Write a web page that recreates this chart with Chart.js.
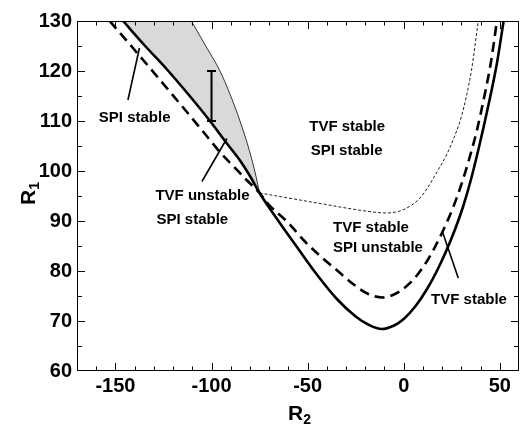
<!DOCTYPE html>
<html>
<head>
<meta charset="utf-8">
<script src="https://cdn.jsdelivr.net/npm/chart.js@4.4.0/dist/chart.umd.min.js"></script>
<style>
  html, body { margin: 0; padding: 0; background: #fff; }
</style>
</head>
<body>
<canvas id="mycanvas" width="520" height="424"></canvas>
<script>
// values: x = R2, y = R1

// thick solid line (TVF boundary), left branch up to the crossing, then the V
var tvfLeftR2 = [-146, -135, -123.4, -112, -100.8, -92, -85, -80, -75];
var tvfLeftR1 = [130, 125.2, 120.4, 115.3, 110, 105.5, 102, 99, 95.6];
var tvfRightR2 = [-65, -55, -45, -35, -25, -18, -11.5, -5, 0, 6, 12, 17, 22, 27, 31, 35, 39, 44, 48.4, 52];
var tvfRightR1 = [89.9, 84.5, 79.2, 74.5, 70.9, 69.2, 68.4, 69.1, 70.4, 72.9, 76.3, 79.8, 83.9, 88.6, 93, 98.3, 104.5, 113, 121.3, 130];

// thick dashed line (SPI boundary)
var spiR2 = [-153, -140, -127, -115, -104, -95, -88.7, -82, -75, -70.5, -60, -51.4, -42, -34, -26, -18.4, -11, -4, 1, 6, 11, 16, 21, 26, 30, 34, 38, 42, 45.5, 48.5];
var spiR1 = [130, 124.2, 118.3, 112.8, 107.7, 103.5, 101, 98.3, 95.6, 93.4, 89.6, 85.9, 82.5, 79.9, 77.3, 75.4, 74.7, 75.5, 76.8, 78.7, 81.3, 84.6, 88.5, 93, 97.3, 102.3, 108, 115, 122, 130];

// thin dotted line
var dotR2 = [-75, -60, -45, -30, -18, -9, -2, 3, 8, 12, 17, 22, 26, 30.1, 35.3, 38.8];
var dotR1 = [95.6, 94.6, 93.6, 92.6, 91.9, 91.6, 92, 92.9, 94.4, 96.4, 99.6, 103, 106.5, 111, 120.2, 130];

// thin solid line closing the grey region
var thinR2 = [-110.5, -103, -95.6, -90, -85.2, -81, -77.5, -75];
var thinR1 = [130, 125, 120, 115, 110, 105, 100, 95.6];

// error bar
var errR2 = [-100, -100];
var errR1 = [110, 120];

var xTickVals = [-150, -100, -50, 0, 50];
var yTickVals = [60, 70, 80, 90, 100, 110, 120, 130];

// labels written on the plot, anchored in data units
var notes = [
  {text: 'SPI stable', x: -140, y: 110.7},
  {text: 'TVF unstable', x: -104.7, y: 95},
  {text: 'SPI stable', x: -110, y: 90.3},
  {text: 'TVF stable', x: -29.4, y: 108.9},
  {text: 'SPI stable', x: -29.7, y: 104},
  {text: 'TVF stable', x: -17, y: 88.6},
  {text: 'SPI unstable', x: -13.4, y: 84.6},
  {text: 'TVF stable', x: 34, y: 74.2}
];
var pointers = [
  [-143.5, 114.2, -137.5, 124.6],
  [-105, 97.9, -92, 106.5],
  [20.2, 87.8, 28.4, 78.6]
];

function pts(xs, ys) {
	return xs.map(function (x, i) { return {x: x, y: ys[i]}; });
}

var greyShape = pts(tvfLeftR2, tvfLeftR1).concat(pts(thinR2, thinR1).reverse());

var decor = {
	id: 'decor',
	afterDraw: function (chart) {
		var ctx = chart.ctx, a = chart.chartArea;
		var sx = chart.scales.x, sy = chart.scales.y;
		var font = '"Liberation Sans", Arial, Helvetica, sans-serif';
		function seg(x1, y1, x2, y2) {
			ctx.beginPath(); ctx.moveTo(x1, y1); ctx.lineTo(x2, y2); ctx.stroke();
		}
		ctx.save();
		ctx.strokeStyle = '#000';
		ctx.lineWidth = 1;
		ctx.strokeRect(a.left + 0.5, a.top + 0.5, a.right - a.left - 1, a.bottom - a.top - 1);

		// inward ticks on all four sides
		for (var v = -160; v <= 50; v += 10) {
			var px = Math.round(sx.getPixelForValue(v)) + 0.5;
			var len = (v % 50 === 0) ? 8 : 4.5;
			seg(px, a.bottom, px, a.bottom - len);
			seg(px, a.top, px, a.top + len);
		}
		for (var w = 65; w < 130; w += 5) {
			var py = Math.round(sy.getPixelForValue(w)) + 0.5;
			var l2 = (w % 10 === 0) ? 8 : 5;
			seg(a.left, py, a.left + l2, py);
			seg(a.right, py, a.right - l2, py);
		}

		// pointer lines
		ctx.lineWidth = 1.6;
		pointers.forEach(function (p) {
			seg(sx.getPixelForValue(p[0]), sy.getPixelForValue(p[1]),
				sx.getPixelForValue(p[2]), sy.getPixelForValue(p[3]));
		});

		// region labels
		ctx.fillStyle = '#000';
		ctx.font = 'bold 15px ' + font;
		ctx.textAlign = 'center';
		ctx.textBaseline = 'middle';
		notes.forEach(function (n) {
			ctx.fillText(n.text, sx.getPixelForValue(n.x), sy.getPixelForValue(n.y));
		});

		// axis titles with subscripts
		ctx.textAlign = 'left';
		ctx.textBaseline = 'alphabetic';
		ctx.font = 'bold 21px ' + font;
		var rw = ctx.measureText('R').width;
		ctx.fillText('R', 288, 420);
		ctx.font = 'bold 14px ' + font;
		ctx.fillText('2', 288 + rw, 424);

		ctx.translate(35, 205);
		ctx.rotate(-Math.PI / 2);
		ctx.font = 'bold 21px ' + font;
		ctx.fillText('R', 0, 0);
		ctx.font = 'bold 14px ' + font;
		ctx.fillText('1', rw, 4);
		ctx.restore();
	}
};

var ctx = document.getElementById('mycanvas');

var chart = new Chart(ctx, {
	type: 'scatter',
	data: {
		datasets: [{
			label: 'TVF',
			data: pts(tvfLeftR2.concat(tvfRightR2), tvfLeftR1.concat(tvfRightR1)),
			showLine: true,
			borderColor: '#000',
			borderWidth: 2.6,
			pointRadius: 0,
			cubicInterpolationMode: 'monotone'
		}, {
			label: 'SPI',
			data: pts(spiR2, spiR1),
			showLine: true,
			borderColor: '#000',
			borderWidth: 2.6,
			borderDash: [10, 6],
			pointRadius: 0,
			cubicInterpolationMode: 'monotone'
		}, {
			label: 'dotted',
			data: pts(dotR2, dotR1),
			showLine: true,
			borderColor: '#222',
			borderWidth: 1,
			borderDash: [3, 2],
			pointRadius: 0,
			cubicInterpolationMode: 'monotone'
		}, {
			label: 'thin',
			data: pts(thinR2, thinR1),
			showLine: true,
			borderColor: '#333',
			borderWidth: 1,
			pointRadius: 0,
			cubicInterpolationMode: 'monotone'
		}, {
			label: 'error',
			data: pts(errR2, errR1),
			showLine: true,
			borderColor: '#000',
			borderWidth: 2,
			pointStyle: 'line',
			pointRadius: 4.5,
			pointBorderWidth: 2,
			pointBorderColor: '#000'
		}, {
			label: 'grey',
			data: greyShape,
			showLine: true,
			borderWidth: 0,
			borderColor: 'rgba(0,0,0,0)',
			backgroundColor: '#d9d9d9',
			fill: 'shape',
			pointRadius: 0,
			tension: 0
		}]
	},
	options: {
		responsive: false,
		animation: false,
		layout: { autoPadding: false, padding: { top: 21, right: 1, left: 0, bottom: 0 } },
		plugins: {
			legend: { display: false },
			tooltip: { enabled: false }
		},
		scales: {
			x: {
				type: 'linear',
				min: -170,
				max: 60,
				afterBuildTicks: function (s) { s.ticks = xTickVals.map(function (v) { return {value: v}; }); },
				afterFit: function (s) { s.height = 53; s.paddingLeft = 0; s.paddingRight = 0; },
				grid: { display: false, drawTicks: false },
				border: { display: false },
				ticks: {
					color: '#000',
					padding: 3,
					maxRotation: 0,
					font: { family: '"Liberation Sans", Arial, sans-serif', size: 20, weight: 'bold' }
				}
			},
			y: {
				type: 'linear',
				min: 60,
				max: 130,
				afterBuildTicks: function (s) { s.ticks = yTickVals.map(function (v) { return {value: v}; }); },
				afterFit: function (s) { s.width = 77; s.paddingTop = 0; s.paddingBottom = 0; },
				grid: { display: false, drawTicks: false },
				border: { display: false },
				ticks: {
					color: '#000',
					padding: 5,
					font: { family: '"Liberation Sans", Arial, sans-serif', size: 20, weight: 'bold' }
				}
			}
		}
	},
	plugins: [decor]
});
</script>
</body>
</html>
